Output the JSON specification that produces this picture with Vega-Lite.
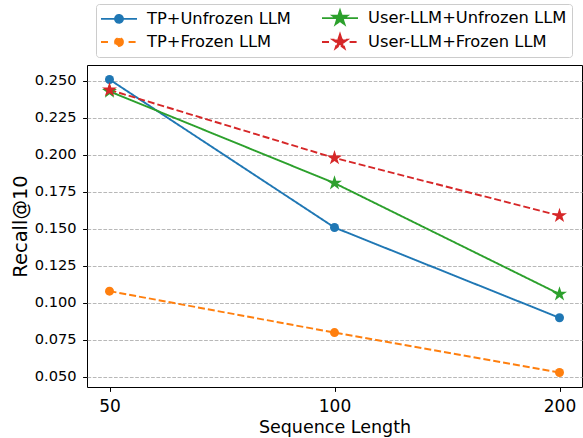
{
  "$schema": "https://vega.github.io/schema/vega-lite/v6.json",
  "width": 495,
  "height": 322,
  "autosize": {"type": "none"},
  "padding": {"left": 87, "top": 65, "right": 1, "bottom": 51},
  "background": "white",
  "data": {
    "values": [
      {"seq": 50, "series": "TP+Unfrozen LLM", "marker": "circle", "recall": 0.251},
      {"seq": 100, "series": "TP+Unfrozen LLM", "marker": "circle", "recall": 0.151},
      {"seq": 200, "series": "TP+Unfrozen LLM", "marker": "circle", "recall": 0.090},
      {"seq": 50, "series": "TP+Frozen LLM", "marker": "circle", "recall": 0.108},
      {"seq": 100, "series": "TP+Frozen LLM", "marker": "circle", "recall": 0.080},
      {"seq": 200, "series": "TP+Frozen LLM", "marker": "circle", "recall": 0.053},
      {"seq": 50, "series": "User-LLM+Unfrozen LLM", "marker": "star", "recall": 0.243},
      {"seq": 100, "series": "User-LLM+Unfrozen LLM", "marker": "star", "recall": 0.181},
      {"seq": 200, "series": "User-LLM+Unfrozen LLM", "marker": "star", "recall": 0.106},
      {"seq": 50, "series": "User-LLM+Frozen LLM", "marker": "star", "recall": 0.244},
      {"seq": 100, "series": "User-LLM+Frozen LLM", "marker": "star", "recall": 0.198},
      {"seq": 200, "series": "User-LLM+Frozen LLM", "marker": "star", "recall": 0.159}
    ]
  },
  "encoding": {
    "x": {
      "field": "seq",
      "type": "ordinal",
      "sort": "ascending",
      "scale": {"type": "point", "padding": 0.1},
      "axis": {
        "title": "Sequence Length",
        "labelAngle": 0,
        "labelFontSize": 17,
        "labelBaseline": "alphabetic",
        "labelPadding": 20.3,
        "tickSize": 4.4,
        "titleFontSize": 17.5,
        "titleFontWeight": "normal",
        "titleBaseline": "alphabetic",
        "titleY": 45,
        "grid": false,
        "domain": false
      }
    },
    "y": {
      "field": "recall",
      "type": "quantitative",
      "scale": {"domain": [0.04324, 0.26081], "nice": false, "zero": false},
      "axis": {
        "title": "Recall@10",
        "values": [0.05, 0.075, 0.1, 0.125, 0.15, 0.175, 0.2, 0.225, 0.25],
        "format": ".3f",
        "labelFontSize": 14.6,
        "labelPadding": 6.6,
        "tickSize": 4.4,
        "titleFontSize": 19.5,
        "titleFontWeight": "normal",
        "titleX": -67,
        "titleBaseline": "middle",
        "grid": true,
        "gridColor": "#b8b8b8",
        "gridDash": [3.7, 1.6],
        "gridWidth": 1,
        "domain": false
      }
    },
    "color": {
      "field": "series",
      "type": "nominal",
      "scale": {
        "domain": ["TP+Unfrozen LLM", "TP+Frozen LLM", "User-LLM+Unfrozen LLM", "User-LLM+Frozen LLM"],
        "range": ["#1f77b4", "#ff7f0e", "#2ca02c", "#d62728"]
      },
      "legend": {
        "title": null,
        "values": ["TP+Unfrozen LLM", "User-LLM+Unfrozen LLM", "TP+Frozen LLM", "User-LLM+Frozen LLM"],
        "orient": "none",
        "legendX": 9,
        "legendY": -61,
        "direction": "horizontal",
        "columns": 2,
        "padding": 5,
        "symbolSize": 256,
        "symbolOffset": 9,
        "labelOffset": 19,
        "labelLimit": 300,
        "columnPadding": 27,
        "rowPadding": 2,
        "labelFontSize": 16.3,
        "labelColor": "black",
        "symbolStrokeWidth": 1.8,
        "fillColor": "white",
        "strokeColor": "#cccccc",
        "cornerRadius": 3,
        "encode": {
          "symbols": {
            "update": {
              "shape": {"signal": "datum.value === 'TP+Unfrozen LLM' ? 'M-2.25,0H2.25M0.5,0A0.5,0.5 0 1,1 -0.5,0A0.5,0.5 0 1,1 0.5,0Z' : datum.value === 'TP+Frozen LLM' ? 'M-2.25,0H-1.2M1.2,0H2.25M0.5,0A0.5,0.5 0 1,1 -0.5,0A0.5,0.5 0 1,1 0.5,0Z' : datum.value === 'User-LLM+Unfrozen LLM' ? 'M-2.25,0H2.25M0,-0.97L0.2177,-0.2997L0.9225,-0.2997L0.3523,0.1145L0.5701,0.7847L0,0.3705L-0.5701,0.7847L-0.3523,0.1145L-0.9225,-0.2997L-0.2177,-0.2997Z' : 'M-2.25,0H-1.2M1.2,0H2.25M0,-0.97L0.2177,-0.2997L0.9225,-0.2997L0.3523,0.1145L0.5701,0.7847L0,0.3705L-0.5701,0.7847L-0.3523,0.1145L-0.9225,-0.2997L-0.2177,-0.2997Z'"},
              "fill": {"scale": "color", "field": "value"},
              "stroke": {"scale": "color", "field": "value"},
              "strokeDash": {"value": [1, 0]},
              "opacity": {"value": 1}
            }
          }
        }
      }
    }
  },
  "layer": [
    {
      "mark": {"type": "line", "strokeWidth": 1.9},
      "encoding": {
        "strokeDash": {
          "field": "series",
          "type": "nominal",
          "scale": {
            "domain": ["TP+Unfrozen LLM", "TP+Frozen LLM", "User-LLM+Unfrozen LLM", "User-LLM+Frozen LLM"],
            "range": [[1, 0], [7, 3], [1, 0], [7, 3]]
          },
          "legend": null
        }
      }
    },
    {
      "transform": [{"filter": "datum.marker === 'circle'"}],
      "mark": {"type": "point", "shape": "circle", "filled": true, "opacity": 1, "size": 81}
    },
    {
      "transform": [{"filter": "datum.marker === 'star'"}],
      "mark": {
        "type": "point",
        "shape": "M0,-1.75L0.393,-0.541L1.664,-0.541L0.636,0.207L1.029,1.416L0,0.668L-1.029,1.416L-0.636,0.207L-1.664,-0.541L-0.393,-0.541Z",
        "filled": true,
        "opacity": 1,
        "size": 81
      }
    }
  ],
  "config": {
    "font": "DejaVu Sans",
    "view": {"stroke": "black", "strokeWidth": 1},
    "axis": {
      "labelColor": "black",
      "titleColor": "black",
      "tickColor": "black",
      "tickWidth": 1,
      "labelFont": "DejaVu Sans",
      "titleFont": "DejaVu Sans"
    },
    "legend": {"labelFont": "DejaVu Sans"}
  }
}
